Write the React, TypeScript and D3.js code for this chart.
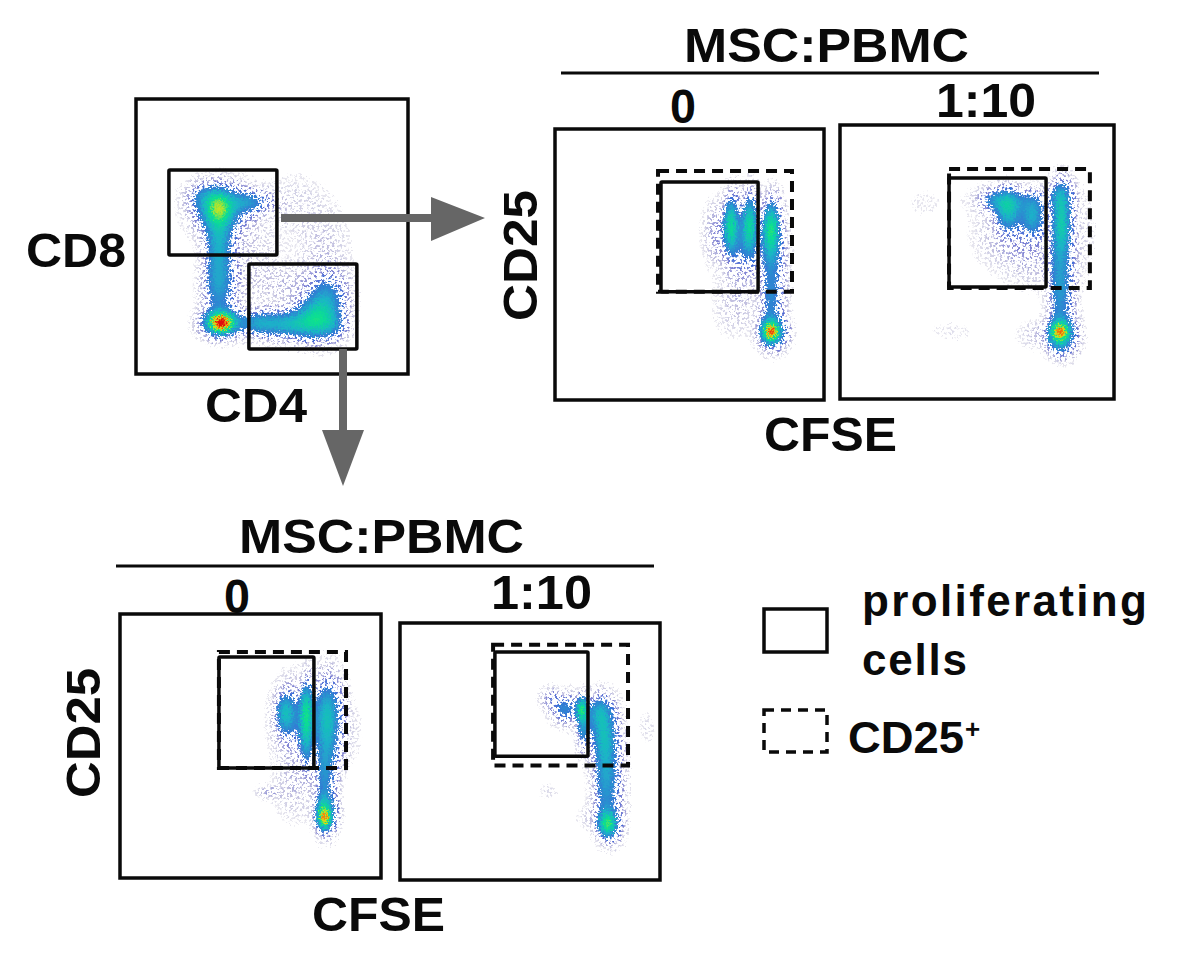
import React, { useMemo } from "react";
import * as d3 from "d3";

type Cluster = number[]; // x, y, sd x, sd y, height (axis units 0-100, height 0-1)

const populationGating: Cluster[] = [
  [30, 61, 3, 4, 0.3], [30, 60, 6, 5.5, 0.3], [41, 63, 5.5, 2.8, 0.2], [24, 65, 4, 3, 0.12], [30, 50, 3.2, 6, 0.2],
  [30, 40, 3.6, 7, 0.17], [30, 30, 3.8, 7, 0.18], [31, 19, 2.4, 1.9, 0.5], [31, 19, 4.5, 3, 0.5],
  [66, 21, 5, 5, 0.34], [72, 18, 3, 3, 0.1], [55, 18.5, 8, 3.2, 0.3], [44, 19, 4, 2.8, 0.16], [70, 28, 4.2, 6, 0.18],
  [55, 33, 12, 5, 0.04], [68, 45, 6, 10, 0.035], [58, 62, 7, 7, 0.025], [42, 46, 6, 8, 0.028],
];
const cd8Control: Cluster[] = [
  [65, 65, 1.8, 6.5, 0.4], [72, 65, 1.8, 7, 0.38], [80, 64, 2, 6.5, 0.44], [69, 58, 4.5, 9, 0.13],
  [80, 52, 3, 9, 0.18], [80, 37, 2.6, 6, 0.16], [80, 25.6, 1.6, 1.8, 0.42], [80, 25.6, 3, 3.6, 0.48],
  [66, 35, 5, 7, 0.035], [59, 62, 3, 7, 0.07],
];
const cd8Treated: Cluster[] = [
  [61, 69, 3, 4.5, 0.3], [70, 67, 2.8, 4.5, 0.26], [56, 73, 4, 2.8, 0.14], [65, 73, 8, 2.8, 0.12],
  [80.5, 65, 2.2, 7, 0.36], [80, 75, 2.8, 4, 0.18], [80, 48, 2.8, 9, 0.22], [80, 36, 2.8, 6, 0.13],
  [80, 25, 1.8, 2, 0.42], [80, 24, 3.2, 4.2, 0.44], [62, 60, 8, 7, 0.06], [70, 52, 7, 7, 0.04],
  [40, 25, 6, 2, 0.016], [70, 24, 4, 3, 0.035], [30, 72, 10, 7, 0.009], [88, 60, 3, 10, 0.02],
];
const cd4Control: Cluster[] = [
  [71, 64, 1.6, 7, 0.36], [71, 52, 1.8, 7, 0.2], [63, 63, 2.5, 5, 0.26], [66, 60, 5, 9, 0.12],
  [79, 63, 3.4, 8.5, 0.3], [79, 50, 3, 8, 0.16], [78, 38, 2.4, 7, 0.17], [78, 23, 1.4, 2.4, 0.42], [78, 25, 2.4, 4.5, 0.44],
  [56, 33, 3, 1.5, 0.06], [66, 35, 5, 8, 0.04], [88, 55, 3, 8, 0.016],
];
const cd4Treated: Cluster[] = [
  [69.5, 67, 1.3, 3, 0.38], [70, 60, 1.8, 6, 0.22], [63, 67, 3.5, 3.5, 0.2], [57, 71, 2.5, 2.5, 0.09],
  [76, 66, 3, 4, 0.2], [78, 58, 3.2, 7, 0.28], [79, 45, 3.2, 8, 0.22], [79, 33, 3.4, 7, 0.14],
  [79.5, 22, 2.2, 3, 0.38], [79.5, 23, 3.2, 5, 0.14], [94, 60, 2, 4, 0.02], [56, 35, 2.5, 2, 0.02], [72, 25, 4, 3, 0.02],
];

// gates: x0, x1, yTop, yBottom in axis units
const gatesPopulation = [[12.1, 51.8, 74.2, 43.3], [41.5, 81.2, 40, 9.1]];
const solidGates = [[39.4, 75.5, 80.4, 39.9], [39.8, 75.2, 80.7, 40.9], [37.9, 74.3, 83.7, 41.7], [36.5, 72.3, 88.7, 48.2]];
const dashedGates = [[38.3, 88.1, 84.5, 39.9], [39.8, 91.2, 83.9, 40.5], [37.9, 86.6, 85.6, 41.7], [35.8, 87.7, 91.5, 44.6]];

const densityLevels = [0, 0.008, 0.03, 0.07, 0.13, 0.3, 0.48, 0.68, 0.82, 0.95];
const densityColors = ["#ffffff", "#e6e5ee", "#c2c0e0", "#7f82d4", "#3a6cd8", "#1cb4c8", "#08e090", "#d8e418", "#f07a10", "#e01010"];
const color = d3.scaleLinear<string>().domain(densityLevels).range(densityColors).clamp(true);
const thresholds = [0.008, 0.014, 0.02, 0.03, 0.04, 0.055, 0.07, 0.09, 0.11, ...d3.range(0.13, 1.02, 0.02)];

const GRID = 130;
const GRAIN_LIMIT = 0.17;
function Density({ clusters, box, id }: { clusters: Cluster[]; box: number[]; id: string }) {
  const [x0, x1, y0, y1] = box;
  const paths = useMemo(() => {
    const gx = d3.scaleLinear().domain([0, GRID - 1]).range([0, 100]);
    const gy = d3.scaleLinear().domain([0, GRID - 1]).range([100, 0]);
    const values = new Array(GRID * GRID).fill(0);
    for (let j = 0; j < GRID; j++)
      for (let i = 0; i < GRID; i++) {
        let v = 0;
        for (const [cx, cy, sx, sy, a] of clusters) {
          v += a * Math.exp(-0.5 * (((gx(i) - cx) / sx) ** 2 + ((gy(j) - cy) / sy) ** 2));
        }
        values[j * GRID + i] = v;
      }
    const cs = d3.contours().size([GRID, GRID]).thresholds(thresholds)(values);
    const path = d3.geoPath();
    return cs.map((c) => ({ d: path(c) || "", v: c.value }));
  }, [clusters]);
  const tf = `translate(${x0},${y0}) scale(${(x1 - x0) / (GRID - 1)},${(y1 - y0) / (GRID - 1)})`;
  return (
    <g>
      <g filter={`url(#${id}L)`}>
        <g transform={tf}>
          {paths.filter((p) => p.v < GRAIN_LIMIT).map((p, i) => <path key={i} d={p.d} fill={color(p.v)} />)}
        </g>
      </g>
      <g filter={`url(#${id})`}>
        <g transform={tf}>
          {paths.filter((p) => p.v >= GRAIN_LIMIT).map((p, i) => <path key={i} d={p.d} fill={color(p.v)} />)}
        </g>
      </g>
    </g>
  );
}

const FONT = "'Liberation Sans', Arial, sans-serif";
function Label({ x, y, w, size = 49, children, rotate, spacing }: any) {
  return (
    <text
      x={x} y={y} fontFamily={FONT} fontWeight="bold" fontSize={size} fill="#0a0a0a"
      textLength={w} lengthAdjust={spacing ? "spacing" : "spacingAndGlyphs"}
      transform={rotate ? `rotate(-90 ${x} ${y})` : undefined}
    >
      {children}
    </text>
  );
}

function Panel({ box, clusters, solid, dashed, id }: any) {
  const [x0, x1, y0, y1] = box;
  const sx = d3.scaleLinear().domain([0, 100]).range([x0, x1]);
  const sy = d3.scaleLinear().domain([0, 100]).range([y1, y0]);
  const rect = (g: number[]) => ({ x: sx(g[0]), y: sy(g[2]), width: sx(g[1]) - sx(g[0]), height: sy(g[3]) - sy(g[2]) });
  return (
    <g>
      <Density clusters={clusters} box={box} id={id} />
      <rect x={x0} y={y0} width={x1 - x0} height={y1 - y0} fill="none" stroke="#0a0a0a" strokeWidth={3.5} />
      {dashed && <rect {...rect(dashed)} fill="none" stroke="#0a0a0a" strokeWidth={4} strokeDasharray="11 7" />}
      {solid.map((g: number[], i: number) => (
        <rect key={i} {...rect(g)} rx={1} fill="none" stroke="#0a0a0a" strokeWidth={3.5} />
      ))}
    </g>
  );
}

const ids = ["a", "b", "c", "d", "e"];
export default function App() {
  return (
    <svg width={1200} height={957} style={{ position: "absolute", left: 0, top: 0, background: "#fff" }}>
      <defs>
        {ids.map((id, i) => (
          <React.Fragment key={id}>
            <filter id={id} x="0" y="0" width="1200" height="957" filterUnits="userSpaceOnUse">
              <feTurbulence type="fractalNoise" baseFrequency="0.6" numOctaves={1} seed={i + 3} result="n" />
              <feDisplacementMap in="SourceGraphic" in2="n" scale={12} xChannelSelector="R" yChannelSelector="G" />
              <feGaussianBlur stdDeviation={0.5} />
            </filter>
            <filter id={`${id}L`} x="0" y="0" width="1200" height="957" filterUnits="userSpaceOnUse">
              <feTurbulence type="fractalNoise" baseFrequency="0.4" numOctaves={2} seed={i + 11} result="n" />
              <feColorMatrix in="n" type="matrix" values="0 0 0 0 0  0 0 0 0 0  0 0 0 0 0  9 0 0 0 -3.4" result="holes" />
              <feDisplacementMap in="SourceGraphic" in2="n" scale={12} xChannelSelector="R" yChannelSelector="G" result="d" />
              <feComposite in="d" in2="holes" operator="out" />
              <feGaussianBlur stdDeviation={0.6} />
            </filter>
          </React.Fragment>
        ))}
      </defs>

      <Panel id="a" box={[136, 408, 99, 374]} clusters={populationGating} solid={gatesPopulation} />
      <Panel id="b" box={[555, 824, 129, 400]} clusters={cd8Control} solid={[solidGates[0]]} dashed={dashedGates[0]} />
      <Panel id="c" box={[840, 1114, 125, 399]} clusters={cd8Treated} solid={[solidGates[1]]} dashed={dashedGates[1]} />
      <Panel id="d" box={[120, 381, 614, 878]} clusters={cd4Control} solid={[solidGates[2]]} dashed={dashedGates[2]} />
      <Panel id="e" box={[400, 660, 623, 880]} clusters={cd4Treated} solid={[solidGates[3]]} dashed={dashedGates[3]} />

      <path d="M281 214H431V197L485 218L431 241V222H281Z" fill="#666" />
      <path d="M339 349H347V430H364L343 486L322 430H339Z" fill="#666" />

      <Label x={684} y={62} w={285}>MSC:PBMC</Label>
      <line x1={561} x2={1099} y1={73} y2={73} stroke="#0a0a0a" strokeWidth={3} />
      <Label x={670} y={123} w={26}>0</Label>
      <Label x={936} y={117} w={100}>1:10</Label>
      <Label x={537} y={321} w={131} rotate>CD25</Label>
      <Label x={764} y={451} w={133}>CFSE</Label>
      <Label x={26} y={267} w={100}>CD8</Label>
      <Label x={205} y={422} w={102}>CD4</Label>

      <Label x={239} y={553} w={285}>MSC:PBMC</Label>
      <line x1={116} x2={654} y1={566} y2={566} stroke="#0a0a0a" strokeWidth={3} />
      <Label x={224} y={613} w={26}>0</Label>
      <Label x={491} y={609} w={101}>1:10</Label>
      <Label x={100} y={798} w={130} rotate>CD25</Label>
      <Label x={312} y={931} w={133}>CFSE</Label>

      <rect x={764} y={609} width={63} height={43} fill="none" stroke="#0a0a0a" strokeWidth={3.5} />
      <rect x={764} y={710} width={63} height={42} fill="none" stroke="#0a0a0a" strokeWidth={3.5} strokeDasharray="10 7" />
      <Label x={862} y={616} w={285} size={44} spacing>proliferating</Label>
      <Label x={862} y={675} w={105} size={44} spacing>cells</Label>
      <Label x={848} y={753} w={116} size={44}>CD25</Label>
      <text x={965} y={738} fontFamily={FONT} fontWeight="bold" fontSize={26} fill="#0a0a0a">+</text>
    </svg>
  );
}
